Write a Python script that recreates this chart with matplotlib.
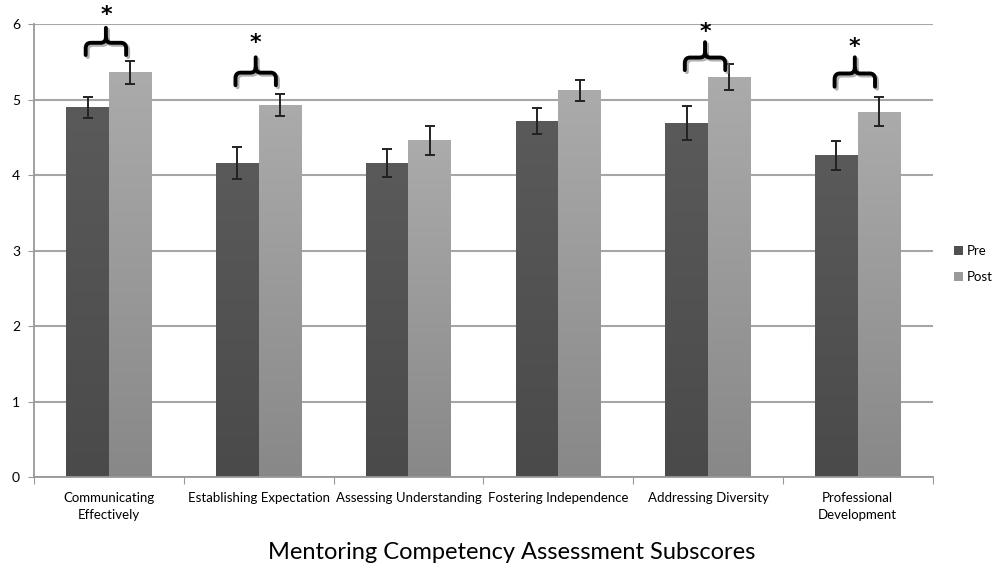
import numpy as np
import matplotlib
matplotlib.use('Agg')
import matplotlib.pyplot as plt
from matplotlib.path import Path
from matplotlib.patches import PathPatch
import matplotlib.patheffects as pe

plt.rcParams['font.family'] = ['Lato', 'DejaVu Sans']

categories = ['Communicating\nEffectively', 'Establishing Expectation', 'Assessing Understanding',
              'Fostering Independence', 'Addressing Diversity', 'Professional\nDevelopment']
pre = [4.90, 4.16, 4.16, 4.72, 4.69, 4.26]
pre_err = [0.14, 0.21, 0.18, 0.17, 0.22, 0.19]
post = [5.36, 4.93, 4.46, 5.12, 5.30, 4.84]
post_err = [0.15, 0.15, 0.19, 0.14, 0.17, 0.19]
# significant comparisons: category index, brace end level, brace tip level, star level
sig_idx = [0, 1, 4, 5]
sig_end = [5.59, 5.19, 5.39, 5.17]
sig_tip = [5.95, 5.56, 5.76, 5.56]
sig_star = [6.12, 5.75, 5.89, 5.70]

fig = plt.figure(figsize=(10.03, 5.69), dpi=100)
ax = fig.add_axes([0.0339, 0.1617, 0.896, 0.796])

x = np.arange(len(categories))
w = 0.285
b1 = ax.bar(x - w / 2, pre, w, color='#505050', zorder=2, label='Pre')
b2 = ax.bar(x + w / 2, post, w, color='#9a9a9a', zorder=2, label='Post')

# vertical gradient inside each bar
def shade(bars, top, bottom):
    grad = np.linspace(0, 1, 256).reshape(-1, 1)
    cmap = matplotlib.colors.LinearSegmentedColormap.from_list('g', [top, bottom])
    for r in bars:
        x0, y0 = r.get_x(), r.get_y()
        im = ax.imshow(grad, cmap=cmap, aspect='auto', zorder=2.1,
                       extent=[x0, x0 + r.get_width(), y0, y0 + r.get_height()])
        im.set_clip_path(r)

shade(b1, '#5a5a5a', '#4a4a4a')
shade(b2, '#ababab', '#888888')

ax.errorbar(x - w / 2, pre, yerr=pre_err, fmt='none', ecolor='#222222', elinewidth=1.4,
            capsize=3.5, capthick=1.4, zorder=3)
ax.errorbar(x + w / 2, post, yerr=post_err, fmt='none', ecolor='#222222', elinewidth=1.4,
            capsize=3.5, capthick=1.4, zorder=3)

# curly braces with stars
def brace(xc, half, y_end, y_tip):
    ym = y_end + (y_tip - y_end) * 0.45
    r = 0.035
    ry = (y_tip - y_end) * 0.2
    verts = [(xc - half, y_end), (xc - half, ym - ry), (xc - half, ym), (xc - half + r, ym),
             (xc - r, ym), (xc, ym), (xc, ym + ry), (xc, y_tip)]
    codes = [Path.MOVETO, Path.LINETO, Path.CURVE3, Path.CURVE3,
             Path.LINETO, Path.CURVE3, Path.CURVE3, Path.LINETO]
    verts2 = [(xc + half, y_end), (xc + half, ym - ry), (xc + half, ym), (xc + half - r, ym),
              (xc + r, ym), (xc, ym), (xc, ym + ry)]
    codes2 = [Path.MOVETO, Path.LINETO, Path.CURVE3, Path.CURVE3,
              Path.LINETO, Path.CURVE3, Path.CURVE3]
    for v, c in [(verts, codes), (verts2, codes2)]:
        p = PathPatch(Path(v, c), fill=False, lw=2.8, ec='black', zorder=4, clip_on=False,
                      capstyle='round', joinstyle='round')
        p.set_path_effects([pe.SimpleLineShadow(offset=(1.5, -1.5), shadow_color='gray', alpha=0.6),
                            pe.Normal()])
        ax.add_patch(p)

for i, ye, yt, ys in zip(sig_idx, sig_end, sig_tip, sig_star):
    xc = x[i] - 0.02
    brace(xc, 0.135, ye, yt)
    ax.text(xc, ys, '*', ha='center', va='center', fontsize=16, fontweight='bold',
            clip_on=False, family='DejaVu Sans')

ax.set_xlim(-0.5, len(categories) - 0.5)
ax.set_ylim(0, 6)
ax.set_yticks(range(7))
ax.set_xticks(np.arange(len(categories) + 1) - 0.5)
ax.set_xticklabels([])
ax.set_xticks(x, minor=True)
ax.set_xticklabels(categories, minor=True, fontsize=9.5, linespacing=1.5)
ax.tick_params(axis='x', which='minor', length=0, pad=11)
ax.tick_params(axis='x', which='major', length=5, color='#999999')
ax.tick_params(axis='y', length=4, color='#999999', labelsize=10, pad=6)

ax.grid(axis='y', color='#a6a6a6', lw=1.5, zorder=0)
ax.set_axisbelow(True)
for s in ['top', 'right']:
    ax.spines[s].set_visible(False)
for s in ['left', 'bottom']:
    ax.spines[s].set_color('#999999')
    ax.spines[s].set_linewidth(1.3)

ax.legend(loc='center left', bbox_to_anchor=(1.01, 0.47), frameon=False, fontsize=9.5,
          handlelength=0.7, handleheight=0.7, handletextpad=0.3, labelspacing=1.1)

fig.text(0.51, 0.018, 'Mentoring Competency Assessment Subscores', ha='center', va='baseline',
         fontsize=17)

fig.savefig('out.png', dpi=100)
